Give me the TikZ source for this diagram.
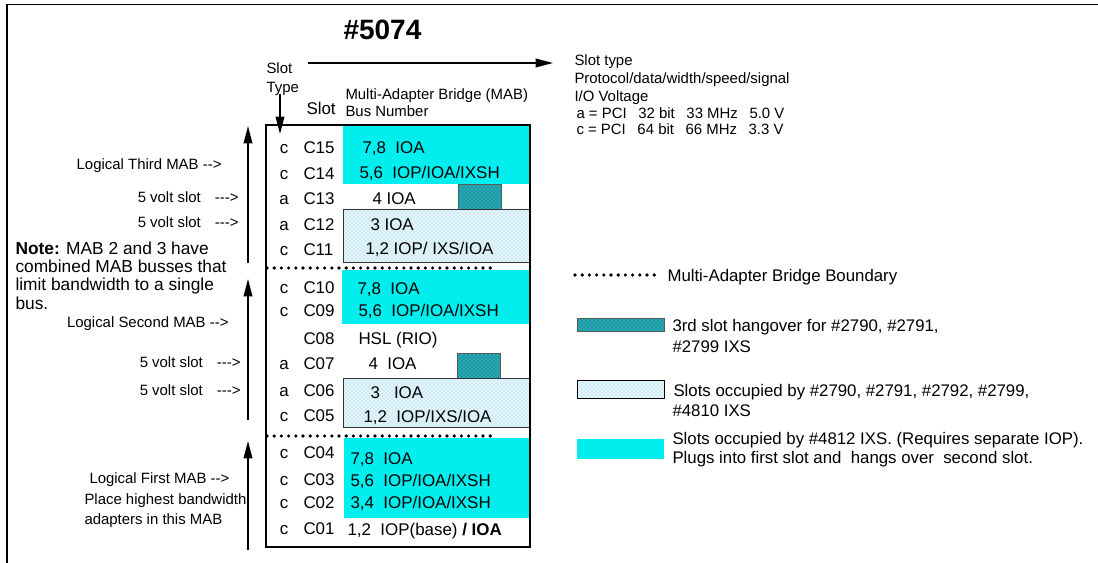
\documentclass[tikz,border=0pt]{standalone}
\usepackage{fontspec}
\setmainfont{Liberation Sans}[Ligatures=TeXOff]
\usetikzlibrary{arrows.meta,patterns}

\definecolor{ixscyan}{RGB}{0,238,238}
\definecolor{hangteal}{RGB}{40,170,180}
\definecolor{hangdots}{RGB}{0,95,105}
\definecolor{slotpale}{RGB}{228,246,252}
\definecolor{slotdots}{RGB}{140,205,230}

\tikzset{every picture/.style={line width=0.75pt}}
\tikzset{
  lbl/.style={inner sep=0.75pt,font=\fontsize{11.2}{13}\selectfont},
  slotlbl/.style={inner sep=0.75pt,font=\fontsize{12.7}{15}\selectfont},
  notelbl/.style={inner sep=0.75pt,font=\fontsize{13}{15}\selectfont},
  lgdlbl/.style={inner sep=0.75pt,font=\fontsize{12.6}{15}\selectfont},
  ixsfill/.style={draw opacity=0,fill=ixscyan},
  hangbox/.style={draw={rgb,255:red,90;green,90;blue,90},line width=0.6pt,preaction={fill=hangteal},pattern=crosshatch dots,pattern color=hangdots},
  dotbox/.style={draw={rgb,255:red,50;green,50;blue,50},line width=0.6pt,preaction={fill=slotpale},pattern=crosshatch dots,pattern color=slotdots},
  mabline/.style={dash pattern=on 0pt off 5.4pt,line width=2.7pt,line cap=round},
  tipline/.style={-{Triangle[length=13pt,width=6.5pt]},line width=1.1pt}
}

\begin{document}
\begin{tikzpicture}[x=0.75pt,y=0.75pt,yscale=-1,xscale=1]
\useasboundingbox (0,0) rectangle (1098,563);

%Shape: Frame
\draw [line width=1.1pt] (7,563) -- (7,4.5) -- (1098,4.5) ;

%Shape: Rectangle (C15/C14 card)
\draw [ixsfill] (343,125) -- (530,125) -- (530,184) -- (343,184) -- cycle ;
%Shape: Rectangle (C13 hangover)
\draw [hangbox] (458,184) -- (501,184) -- (501,209) -- (458,209) -- cycle ;
%Shape: Rectangle (C12/C11 card)
\draw [dotbox] (343,209) -- (530,209) -- (530,262) -- (343,262) -- cycle ;
%Shape: Rectangle (C10/C09 card)
\draw [ixsfill] (342,270) -- (530,270) -- (530,324) -- (342,324) -- cycle ;
%Shape: Rectangle (C07 hangover)
\draw [hangbox] (457,353) -- (500,353) -- (500,378) -- (457,378) -- cycle ;
%Shape: Rectangle (C06/C05 card)
\draw [dotbox] (343,378) -- (530,378) -- (530,427) -- (343,427) -- cycle ;
%Shape: Rectangle (C04/C02 card)
\draw [ixsfill] (344,438) -- (530,438) -- (530,518) -- (344,518) -- cycle ;

%Shape: Rectangle (slot box)
\draw [line width=1.1pt] (266,125) -- (530,125) -- (530,547) -- (266,547) -- cycle ;

%Straight Lines (MAB boundaries)
\draw [mabline] (267,268) -- (497,268) ;
\draw [mabline] (267,436) -- (497,436) ;

% Arrows
\coordinate (hdrfrom) at (308,63) ;
\coordinate (hdrto) at (553,63) ;
\draw [tipline] (hdrfrom) -- (hdrto) ;
\coordinate (typefrom) at (280,94) ;
\coordinate (typeto) at (280,134) ;
\draw [tipline] (typefrom) -- (typeto) ;
\coordinate (mab3base) at (248,263) ;
\coordinate (mab3tip) at (248,126) ;
\draw [tipline] (mab3base) -- (mab3tip) ;
\coordinate (mab2base) at (248,420) ;
\coordinate (mab2tip) at (248,279) ;
\draw [tipline] (mab2base) -- (mab2tip) ;
\coordinate (mab1base) at (248,550) ;
\coordinate (mab1tip) at (248,441) ;
\draw [tipline] (mab1base) -- (mab1tip) ;

% Text Node
\draw (342,40) node [anchor=base west][inner sep=0.75pt][font=\bfseries\fontsize{21}{25}\selectfont] (title) {\#5074};
% Text Node
\draw (265,74) node [anchor=base west][lbl] (typehdra) {Slot};
% Text Node
\draw (265,93) node [anchor=base west][lbl] (typehdrb) {Type};
% Text Node
\draw (305,115) node [anchor=base west][slotlbl] (slothdr) {Slot};
% Text Node
\draw (344,100) node [anchor=base west][lbl] (mabhdra) {Multi-Adapter Bridge (MAB)};
% Text Node
\draw (344,117) node [anchor=base west][lbl] (mabhdrb) {Bus Number};

% Text Node
\draw (573,66) node [anchor=base west][lbl] (keya) {Slot type};
% Text Node
\draw (573,83.5) node [anchor=base west][lbl] (keyb) {Protocol/data/width/speed/signal};
% Text Node
\draw (573,101.5) node [anchor=base west][lbl] (keyc) {I/O Voltage};
% Text Node
\draw (575,119) node [anchor=base west][lbl] (keyd) {a = PCI \enspace 32 bit \enspace 33 MHz \enspace5.0 V};
% Text Node
\draw (575,135) node [anchor=base west][lbl] (keye) {c = PCI \enspace 64 bit \enspace 66 MHz \enspace3.3 V};

% Text Node (slot types)
\draw (284,153) node [anchor=base][slotlbl] (t15) {c};
\draw (284,179) node [anchor=base][slotlbl] (t14) {c};
\draw (284,204) node [anchor=base][slotlbl] (t13) {a};
\draw (284,230) node [anchor=base][slotlbl] (t12) {a};
\draw (284,255) node [anchor=base][slotlbl] (t11) {c};
\draw (284,293) node [anchor=base][slotlbl] (t10) {c};
\draw (284,316) node [anchor=base][slotlbl] (t09) {c};
\draw (284,369) node [anchor=base][slotlbl] (t07) {a};
\draw (284,396) node [anchor=base][slotlbl] (t06) {a};
\draw (284,421) node [anchor=base][slotlbl] (t05) {c};
\draw (284,458) node [anchor=base][slotlbl] (t04) {c};
\draw (284,485) node [anchor=base][slotlbl] (t03) {c};
\draw (284,508) node [anchor=base][slotlbl] (t02) {c};
\draw (284,534) node [anchor=base][slotlbl] (t01) {c};

% Text Node (slot numbers)
\draw (302,153) node [anchor=base west][slotlbl] (s15) {C15};
\draw (302,179) node [anchor=base west][slotlbl] (s14) {C14};
\draw (302,204) node [anchor=base west][slotlbl] (s13) {C13};
\draw (302,230) node [anchor=base west][slotlbl] (s12) {C12};
\draw (302,255) node [anchor=base west][slotlbl] (s11) {C11};
\draw (302,293) node [anchor=base west][slotlbl] (s10) {C10};
\draw (302,316) node [anchor=base west][slotlbl] (s09) {C09};
\draw (302,344) node [anchor=base west][slotlbl] (s08) {C08};
\draw (302,369) node [anchor=base west][slotlbl] (s07) {C07};
\draw (302,396) node [anchor=base west][slotlbl] (s06) {C06};
\draw (302,421) node [anchor=base west][slotlbl] (s05) {C05};
\draw (302,458) node [anchor=base west][slotlbl] (s04) {C04};
\draw (302,485) node [anchor=base west][slotlbl] (s03) {C03};
\draw (302,508) node [anchor=base west][slotlbl] (s02) {C02};
\draw (302,534) node [anchor=base west][slotlbl] (s01) {C01};

% Text Node (bus numbers)
\draw (361,154) node [anchor=base west][slotlbl] (b15) {7,8~ IOA};
\draw (358,178) node [anchor=base west][slotlbl] (b14) {5,6~ IOP/IOA/IXSH};
\draw (371,204) node [anchor=base west][slotlbl] (b13) {4 IOA};
\draw (369,230) node [anchor=base west][slotlbl] (b12) {3 IOA};
\draw (364,254) node [anchor=base west][slotlbl] (b11) {1,2 IOP/ IXS/IOA};
\draw (356,294) node [anchor=base west][slotlbl] (b10) {7,8~ IOA};
\draw (357,316) node [anchor=base west][slotlbl] (b09) {5,6~ IOP/IOA/IXSH};
\draw (357,344) node [anchor=base west][slotlbl] (b08) {HSL (RIO)};
\draw (367,369) node [anchor=base west][slotlbl] (b07) {4~ IOA};
\draw (369,398) node [anchor=base west][slotlbl] (b06) {3~~ IOA};
\draw (362,422) node [anchor=base west][slotlbl] (b05) {1,2~ IOP/IXS/IOA};
\draw (349,464) node [anchor=base west][slotlbl] (b04) {7,8~ IOA};
\draw (349,486) node [anchor=base west][slotlbl] (b03) {5,6~ IOP/IOA/IXSH};
\draw (349,508) node [anchor=base west][slotlbl] (b02) {3,4~ IOP/IOA/IXSH};
\draw (346,535) node [anchor=base west][slotlbl] (b01) {1,2~ IOP(base) \textbf{/ IOA}};

% Text Node (left side)
\draw (223,169) node [anchor=base east][lbl] (mab3lbl) {Logical Third MAB -->};
\draw (240,202) node [anchor=base east][lbl] (volt13) {5 volt slot\hspace{10.5pt}--->};
\draw (240,227) node [anchor=base east][lbl] (volt12) {5 volt slot\hspace{10.5pt}--->};
\draw (230,327) node [anchor=base east][lbl] (mab2lbl) {Logical Second MAB -->};
\draw (242,367) node [anchor=base east][lbl] (volt07) {5 volt slot\hspace{10.5pt}--->};
\draw (242,395) node [anchor=base east][lbl] (volt06) {5 volt slot\hspace{10.5pt}--->};
\draw (88,483) node [anchor=base west][lbl] (mab1lbla) {Logical First MAB -->};
\draw (83,504) node [anchor=base west][lbl] (mab1lblb) {Place highest bandwidth};
\draw (83,524) node [anchor=base west][lbl] (mab1lblc) {adapters in this MAB};

% Text Node (note)
\draw (14,254) node [anchor=base west][notelbl] (notea) {\textbf{Note:} MAB 2 and 3 have};
\draw (14,272) node [anchor=base west][notelbl] (noteb) {combined MAB busses that};
\draw (14,290.5) node [anchor=base west][notelbl] (notec) {limit bandwidth to a single};
\draw (14,309) node [anchor=base west][notelbl] (noted) {bus.};

% Legend
\draw [mabline] (575,275) -- (658,275) ;
\draw (666,281) node [anchor=base west][lgdlbl] (lgdbound) {Multi-Adapter Bridge Boundary};
\draw [hangbox] (577,318) -- (664,318) -- (664,331) -- (577,331) -- cycle ;
\draw (671,331) node [anchor=base west][lgdlbl] (lgdhanga) {3rd slot hangover for \#2790, \#2791,};
\draw (671,352.5) node [anchor=base west][lgdlbl] (lgdhangb) {\#2799 IXS};
\draw [dotbox,draw=black] (577,380) -- (664,380) -- (664,398) -- (577,398) -- cycle ;
\draw (672,396) node [anchor=base west][lgdlbl] (lgdixsa) {Slots occupied by \#2790, \#2791, \#2792, \#2799,};
\draw (671,416) node [anchor=base west][lgdlbl] (lgdixsb) {\#4810 IXS};
\draw [ixsfill] (577,439) -- (664,439) -- (664,459) -- (577,459) -- cycle ;
\draw (671,444) node [anchor=base west][lgdlbl] (lgdcyana) {Slots occupied by \#4812 IXS. (Requires separate IOP).};
\draw (671,463) node [anchor=base west][lgdlbl] (lgdcyanb) {Plugs into first slot and~ hangs over~ second slot.};

\end{tikzpicture}
\end{document}
